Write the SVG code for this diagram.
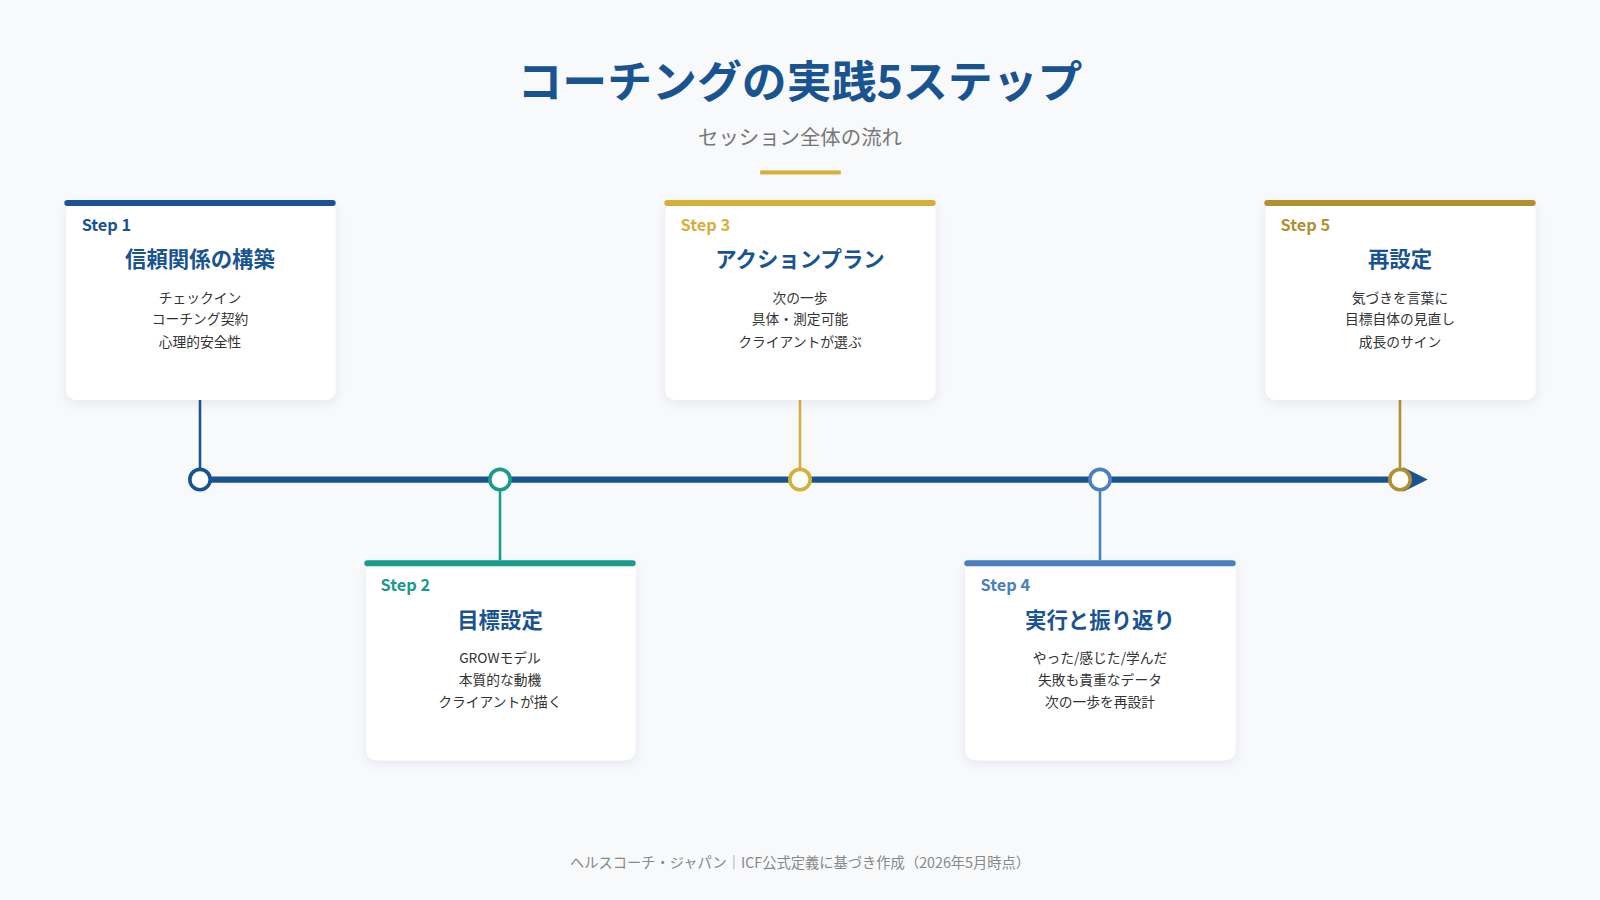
<svg xmlns="http://www.w3.org/2000/svg" width="1600" height="900" viewBox="0 0 1600 900">
<defs>
<filter id="sh" x="-10%" y="-10%" width="120%" height="130%"><feDropShadow dx="0" dy="3" stdDeviation="5" flood-color="#1a3a5a" flood-opacity="0.08"/></filter>
<marker id="arr" viewBox="0 0 10 10" refX="2" refY="5" markerWidth="4" markerHeight="4" orient="auto" markerUnits="strokeWidth"><path d="M0,0 L10,5 L0,10 Z" fill="#1a5490"/></marker>
</defs>
<style>
text{font-family:"Noto Sans CJK JP","Noto Sans",sans-serif}
.card{fill:#fff;filter:url(#sh)}
.step{font-size:16px;font-weight:700}
.ttl{font-size:21px;font-weight:700;fill:#1a5490;text-anchor:middle}
.it{font-size:13.5px;fill:#333;text-anchor:middle}
.dot{fill:#fff;stroke-width:3.5}
</style>
<rect width="1600" height="900" fill="#f7f9fb"/>
<g transform="scale(1.0204)">
<text x="784" y="96" font-size="44" font-weight="700" fill="#1a5490" text-anchor="middle">コーチングの実践5ステップ</text>
<text x="784" y="142" font-size="20" fill="#777" text-anchor="middle">セッション全体の流れ</text>
<rect x="745" y="167" width="79" height="4" fill="#d4b03a"/>
<g id="connectors">
<line x1="196" y1="470" x2="1380" y2="470" stroke="#1a5490" stroke-width="6" marker-end="url(#arr)"/>
<line x1="196" y1="392" x2="196" y2="460" stroke="#1a5490" stroke-width="2.5"/>
<line x1="490" y1="480" x2="490" y2="549" stroke="#1a9a8a" stroke-width="2.5"/>
<line x1="784" y1="392" x2="784" y2="460" stroke="#d4b03a" stroke-width="2.5"/>
<line x1="1078" y1="480" x2="1078" y2="549" stroke="#4a80c0" stroke-width="2.5"/>
<line x1="1372" y1="392" x2="1372" y2="460" stroke="#b0902f" stroke-width="2.5"/>
<circle class="dot" cx="196" cy="470" r="10" stroke="#1a5490"/>
<circle class="dot" cx="490" cy="470" r="10" stroke="#1a9a8a"/>
<circle class="dot" cx="784" cy="470" r="10" stroke="#d4b03a"/>
<circle class="dot" cx="1078" cy="470" r="10" stroke="#4a80c0"/>
<circle class="dot" cx="1372" cy="470" r="10" stroke="#b0902f"/>
</g>
<g id="step1">
<rect class="card" x="65" y="197" width="264" height="195" rx="10"/>
<rect x="63" y="196" width="266" height="6" rx="3" fill="#1a5490"/>
<text class="step" x="80" y="226" fill="#1a5490">Step 1</text>
<text class="ttl" x="196" y="262">信頼関係の構築</text>
<text class="it" x="196" y="297">チェックイン</text>
<text class="it" x="196" y="318">コーチング契約</text>
<text class="it" x="196" y="340">心理的安全性</text>
</g>
<g id="step2">
<rect class="card" x="359" y="550" width="264" height="195" rx="10"/>
<rect x="357" y="549" width="266" height="6" rx="3" fill="#1a9a8a"/>
<text class="step" x="373" y="579" fill="#1a9a8a">Step 2</text>
<text class="ttl" x="490" y="615">目標設定</text>
<text class="it" x="490" y="650">GROWモデル</text>
<text class="it" x="490" y="671">本質的な動機</text>
<text class="it" x="490" y="693">クライアントが描く</text>
</g>
<g id="step3">
<rect class="card" x="652" y="197" width="265" height="195" rx="10"/>
<rect x="651" y="196" width="266" height="6" rx="3" fill="#d4b03a"/>
<text class="step" x="667" y="226" fill="#d4b03a">Step 3</text>
<text class="ttl" x="784" y="262">アクションプラン</text>
<text class="it" x="784" y="297">次の一歩</text>
<text class="it" x="784" y="318">具体・測定可能</text>
<text class="it" x="784" y="340">クライアントが選ぶ</text>
</g>
<g id="step4">
<rect class="card" x="946" y="550" width="265" height="195" rx="10"/>
<rect x="945" y="549" width="266" height="6" rx="3" fill="#4a80c0"/>
<text class="step" x="961" y="579" fill="#4a80c0">Step 4</text>
<text class="ttl" x="1078" y="615">実行と振り返り</text>
<text class="it" x="1078" y="650">やった/感じた/学んだ</text>
<text class="it" x="1078" y="671">失敗も貴重なデータ</text>
<text class="it" x="1078" y="693">次の一歩を再設計</text>
</g>
<g id="step5">
<rect class="card" x="1240" y="197" width="265" height="195" rx="10"/>
<rect x="1239" y="196" width="266" height="6" rx="3" fill="#b0902f"/>
<text class="step" x="1255" y="226" fill="#b0902f">Step 5</text>
<text class="ttl" x="1372" y="262">再設定</text>
<text class="it" x="1372" y="297">気づきを言葉に</text>
<text class="it" x="1372" y="318">目標自体の見直し</text>
<text class="it" x="1372" y="340">成長のサイン</text>
</g>
<text x="784" y="851" font-size="14" fill="#888" text-anchor="middle">ヘルスコーチ・ジャパン｜ICF公式定義に基づき作成（2026年5月時点）</text>
</g>
</svg>
